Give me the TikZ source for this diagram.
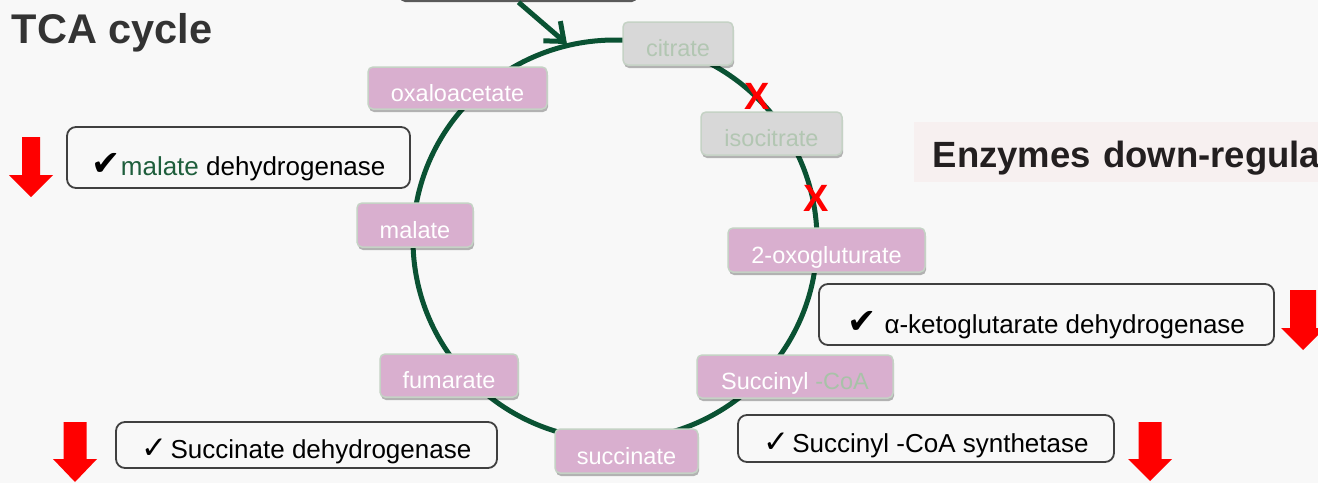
\documentclass[tikz,border=0pt]{standalone}
\usepackage{fontspec}
\setmainfont{Liberation Sans}
\newfontfamily\symfont{DejaVu Sans}
\usepackage{graphicx}
\usetikzlibrary{arrows.meta,shadows}

\definecolor{bgcol}{HTML}{F8F8F8}
\definecolor{cycgreen}{HTML}{0A5233}
\definecolor{metpink}{HTML}{D9AFCF}
\definecolor{metedge}{HTML}{C5D2C5}
\definecolor{offfill}{HTML}{D8D8D8}
\definecolor{offtext}{HTML}{B2C6B2}
\definecolor{coatext}{HTML}{A8C2A8}
\definecolor{enzedge}{HTML}{404040}
\definecolor{titlecol}{HTML}{333333}
\definecolor{bannercol}{HTML}{F7F0F0}
\definecolor{bannertext}{HTML}{231F20}
\definecolor{malgreen}{HTML}{1E5E3C}
\definecolor{srcedge}{HTML}{5A5A5A}

\newcommand\bigcheck{{\symfont\fontsize{35}{35}\selectfont ✔}}
\newcommand\smallcheck{{\symfont\fontsize{31}{31}\selectfont ✓}}
% red block arrow pointing down: centre x, top, head base, tip, half shaft, half head
\newcommand\redarrow[6]{%
  \fill[red] (#1-#5,#2) -- (#1+#5,#2) -- (#1+#5,#3) -- (#1+#6,#3) -- (#1,#4)
    -- (#1-#6,#3) -- (#1-#5,#3) -- cycle;}

\tikzset{
  met/.style={draw=metedge, line width=1.5pt, rounded corners=5pt, fill=metpink,
    text=white, font=\fontsize{23.5}{28}\selectfont, inner sep=0pt,
    text height=26pt, text depth=0pt,
    drop shadow={shadow xshift=1pt, shadow yshift=-3pt, opacity=0.28, fill=black}},
  offmet/.style={met, fill=offfill, text=offtext},
  enz/.style={draw=enzedge, line width=1.8pt, rounded corners=9pt,
    font=\fontsize{26}{30}\selectfont, text=black, inner sep=0pt, text depth=0pt},
  cyc/.style={draw=cycgreen, line width=5pt},
  xmark/.style={text=red, font=\bfseries\fontsize{38}{40}\selectfont, inner sep=0pt},
}

\begin{document}
\begin{tikzpicture}[x=1pt, y=-1pt]
  \useasboundingbox (0,0) rectangle (1318,483);
  \clip (0,0) rectangle (1318,483);
  \fill[bgcol] (0,0) rectangle (1318,483);

  % title and banner
  \node[anchor=base west, inner sep=0pt, text=titlecol,
        font=\bfseries\fontsize{41.5}{45}\selectfont] (title) at (11.5,43) {TCA cycle};
  \node[anchor=west, fill=bannercol, minimum height=60pt, text width=420pt, align=left,
        inner xsep=18.5pt, inner ysep=0pt, text height=30pt, text depth=0pt,
        text=bannertext, font=\bfseries\fontsize{36.5}{40}\selectfont]
        (banner) at (914,152) {Enzymes down-regula};

  % the cycle
  \draw[cyc] (615,240) ellipse [x radius=202pt, y radius=200pt];

  % incoming box and arrow into the cycle
  \node[fill=srcedge, rounded corners=5pt, minimum width=237pt, minimum height=40pt,
        inner sep=0pt] (src) at (518.5,-18) {};
  \coordinate (entry) at (567,44);
  \draw[cyc, -{Straight Barb[length=16pt, width=26pt, line width=5pt]}] (src.south) -- (entry);

  % blocked steps
  \node[xmark] (x1) at (757,96) {X};
  \node[xmark] (x2) at (816,198) {X};

  % metabolites
  \node[offmet, minimum width=110pt, minimum height=43pt] (cit) at (678,43.5) {citrate};
  \node[offmet, minimum width=141pt, minimum height=43pt] (icit) at (771.5,133.5) {isocitrate};
  \node[met, minimum width=197pt, minimum height=44pt] (oxg) at (826.5,250) {2-oxogluturate};
  \node[met, minimum width=196pt, minimum height=43pt] (sca) at (795,376.5)
        {Succinyl\ \textcolor{coatext}{-CoA}};
  \node[met, minimum width=143pt, minimum height=44pt] (suc) at (626.5,451) {succinate};
  \node[met, minimum width=138pt, minimum height=43pt] (fum) at (449,375.5) {fumarate};
  \node[met, minimum width=116pt, minimum height=44pt] (mal) at (415,225) {malate};
  \node[met, minimum width=179pt, minimum height=42pt] (oaa) at (457.5,88) {oxaloacetate};

  % enzymes
  \node[enz, minimum width=343pt, minimum height=61pt, text height=35pt]
        (mdh) at (238.5,157.5) {\bigcheck\textcolor{malgreen}{malate} dehydrogenase};
  \node[enz, minimum width=455pt, minimum height=61pt, text height=37pt]
        (akgdh) at (1046.5,314.5) {\bigcheck\ α-ketoglutarate dehydrogenase};
  \node[enz, minimum width=381pt, minimum height=46pt, text height=26pt]
        (sdh) at (306.5,445) {\smallcheck\hspace{3pt}Succinate dehydrogenase};
  \node[enz, minimum width=376pt, minimum height=47pt, text height=27pt]
        (scs) at (926,438.5) {\smallcheck\hspace{3pt}Succinyl -CoA synthetase};

  % down-regulation markers
  \redarrow{31}{137}{175}{197}{9}{22}
  \redarrow{75}{422}{459}{482}{11.5}{22}
  \redarrow{1150}{422}{459}{481}{11.5}{22}
  \redarrow{1303}{290}{328}{350}{13}{22}
\end{tikzpicture}
\end{document}
